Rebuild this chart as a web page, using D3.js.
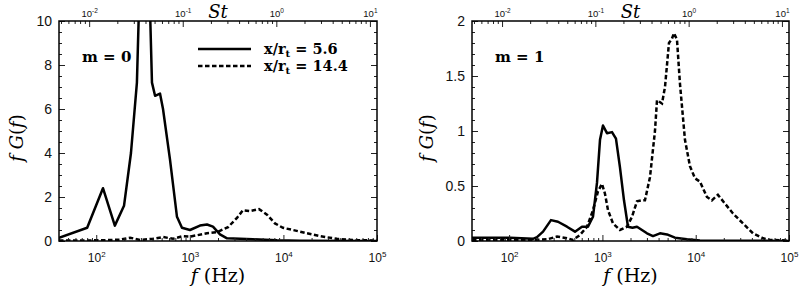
<!DOCTYPE html>
<html>
<head>
<meta charset="utf-8">
<script src="https://cdn.jsdelivr.net/npm/d3@7"></script>
<style>
  body { margin: 0; background: #fff; }
  svg { display: block; }
</style>
</head>
<body>
<div id="canvas"></div>
<script>
"use strict"

/* data: frequency (Hz) and f G(f) */
let fSolidM0 = [40, 80, 118, 158, 198, 235, 272, 301, 357, 394, 425, 480, 517, 614, 729, 824, 1004, 1283, 1525, 1767, 2100, 2497, 4730, 8530, 15000, 100000];
let gSolidM0 = [0.15, 0.6, 2.4, 0.7, 1.6, 4.0, 7.2, 14, 14, 7.2, 6.6, 6.7, 6.0, 3.7, 1.1, 0.6, 0.5, 0.7, 0.75, 0.65, 0.3, 0.12, 0.08, 0.03, 0.01, 0.0];

let fDashM0 = [40, 110, 180, 230, 293, 403, 517, 661, 845, 1004, 1525, 1950, 2560, 3190, 3700, 4390, 5480, 6670, 8120, 9890, 12650, 17860, 24570, 37300, 58100, 100000];
let gDashM0 = [0.02, 0.03, 0.06, 0.15, 0.05, 0.1, 0.18, 0.1, 0.22, 0.2, 0.35, 0.4, 0.63, 1.05, 1.4, 1.36, 1.45, 1.2, 0.8, 0.6, 0.5, 0.35, 0.22, 0.1, 0.04, 0.02];

let fSolidM1 = [40, 102, 180, 199, 231, 281, 334, 417, 508, 604, 700, 792, 875, 942, 1014, 1119, 1267, 1397, 1542, 1703, 1880, 2100, 2346, 3003, 3483, 4140, 4920, 5990, 8060, 11100, 100000];
let gSolidM1 = [0.03, 0.03, 0.02, 0.035, 0.085, 0.19, 0.175, 0.13, 0.085, 0.13, 0.13, 0.22, 0.53, 0.92, 1.05, 0.98, 0.99, 0.93, 0.67, 0.37, 0.13, 0.12, 0.13, 0.07, 0.045, 0.07, 0.06, 0.03, 0.015, 0.005, 0.0];

let fDashM1 = [40, 180, 255, 326, 417, 484, 575, 684, 792, 896, 989, 1065, 1148, 1298, 1542, 1832, 2075, 2346, 2654, 2858, 3234, 3659, 3846, 4351, 4686, 5168, 5569, 5850, 6300, 6780, 7670, 8680, 9820, 11100, 13200, 14900, 17300, 20600, 25100, 32100, 41100, 52600, 62500, 100000];
let gDashM1 = [0.01, 0.01, 0.015, 0.04, 0.025, 0.01, 0.055, 0.13, 0.28, 0.45, 0.52, 0.43, 0.28, 0.16, 0.1, 0.13, 0.22, 0.36, 0.37, 0.37, 0.58, 1.0, 1.28, 1.25, 1.4, 1.8, 1.84, 1.89, 1.83, 1.43, 0.92, 0.68, 0.57, 0.54, 0.4, 0.37, 0.42, 0.34, 0.25, 0.16, 0.07, 0.025, 0.01, 0.005];

/* tick values */
let fTicks = [100, 1000, 10000, 100000];
let stTicks = [0.01, 0.1, 1, 10];
let yTicksM0 = [0, 2, 4, 6, 8, 10];
let yTicksM1 = [0, 0.5, 1, 1.5, 2];

let legendLabels = ["5.6", "14.4"];

let fDomain = [40, 100000];
let fPerSt = 8400;   /* f / St */

let drawing = d3.select("#canvas")
    .append("svg")
    .attr("width", 800)
    .attr("height", 294);

let sans = "'Liberation Sans', Arial, sans-serif";
let serif = "'DejaVu Serif', serif";

/* minor ticks for a log axis: 2..9 in every decade */
function logMinors(lo, hi) {
  let out = [];
  for (let e = Math.floor(Math.log10(lo)); e <= Math.ceil(Math.log10(hi)); e++) {
    for (let k = 2; k <= 9; k++) {
      let v = k * Math.pow(10, e);
      if (v >= lo && v <= hi) out.push(v);
    }
  }
  return out;
}

function powerLabel(sel, size, supSize, dy) {
  sel.each(function(d) {
    let t = d3.select(this);
    t.text(null);
    t.append("tspan").text("10");
    t.append("tspan")
      .attr("dy", dy)
      .attr("font-size", supSize)
      .text(Math.round(Math.log10(d)));
  });
}

function drawPanel(p) {
  let g = drawing.append("g");

  let x = d3.scaleLog().domain(fDomain).range([p.left, p.right]);
  let xSt = d3.scaleLog().domain([fDomain[0] / fPerSt, fDomain[1] / fPerSt]).range([p.left, p.right]);
  let y = d3.scaleLinear().domain([0, p.yMax]).range([p.bottom, p.top]);

  let clipId = "clip" + p.id;
  g.append("clipPath").attr("id", clipId)
    .append("rect")
    .attr("x", p.left).attr("y", p.top)
    .attr("width", p.right - p.left).attr("height", p.bottom - p.top);

  /* curves */
  let line = d3.line().x(d => x(d[0])).y(d => y(d[1]));
  g.append("path")
    .datum(d3.zip(p.fSolid, p.gSolid))
    .attr("d", line)
    .attr("clip-path", "url(#" + clipId + ")")
    .attr("fill", "none")
    .attr("stroke", "black")
    .attr("stroke-width", 2.5)
    .attr("stroke-linejoin", "round");
  g.append("path")
    .datum(d3.zip(p.fDash, p.gDash))
    .attr("d", line)
    .attr("clip-path", "url(#" + clipId + ")")
    .attr("fill", "none")
    .attr("stroke", "black")
    .attr("stroke-width", 2.5)
    .attr("stroke-dasharray", "4.5,2.5");

  /* bottom axis */
  g.append("g")
    .attr("transform", "translate(0," + p.bottom + ")")
    .call(d3.axisBottom(x).tickValues(logMinors(fDomain[0], fDomain[1])).tickSize(-3).tickFormat(""));
  let bottom = g.append("g")
    .attr("transform", "translate(0," + p.bottom + ")")
    .call(d3.axisBottom(x).tickValues(fTicks).tickSize(-6).tickPadding(12));
  bottom.selectAll(".tick text")
    .attr("font-family", sans).attr("font-size", 12).attr("fill", "#111")
    .call(powerLabel, 12, 8, -5);

  /* top axis (Strouhal) */
  g.append("g")
    .attr("transform", "translate(0," + p.top + ")")
    .call(d3.axisTop(xSt).tickValues(logMinors(xSt.domain()[0], xSt.domain()[1])).tickSize(-3).tickFormat(""));
  let top = g.append("g")
    .attr("transform", "translate(0," + p.top + ")")
    .call(d3.axisTop(xSt).tickValues(stTicks).tickSize(-6).tickPadding(4));
  top.selectAll(".tick text")
    .attr("font-family", sans).attr("font-size", 9.5).attr("fill", "#111")
    .call(powerLabel, 9.5, 6.5, -4);

  /* left and right axes */
  let yMinor = d3.range(0, p.yMax + 1e-9, p.yMinorStep);
  g.append("g")
    .attr("transform", "translate(" + p.left + ",0)")
    .call(d3.axisLeft(y).tickValues(yMinor).tickSize(-3).tickFormat(""));
  let left = g.append("g")
    .attr("transform", "translate(" + p.left + ",0)")
    .call(d3.axisLeft(y).tickValues(p.yTicks).tickSize(-6).tickPadding(7).tickFormat(d3.format("~g")));
  left.selectAll(".tick text")
    .attr("font-family", sans).attr("font-size", 14).attr("fill", "#111");
  g.append("g")
    .attr("transform", "translate(" + p.right + ",0)")
    .call(d3.axisRight(y).tickValues(yMinor).tickSize(-3).tickFormat(""));
  g.append("g")
    .attr("transform", "translate(" + p.right + ",0)")
    .call(d3.axisRight(y).tickValues(p.yTicks).tickSize(-6).tickFormat(""));

  g.selectAll(".domain").remove();
  g.selectAll(".tick line").attr("stroke", "#222").attr("stroke-width", 1);

  /* frame */
  g.append("rect")
    .attr("x", p.left).attr("y", p.top)
    .attr("width", p.right - p.left).attr("height", p.bottom - p.top)
    .attr("fill", "none")
    .attr("stroke", "black")
    .attr("stroke-width", 1.5);

  /* titles */
  let cx = (p.left + p.right) / 2;
  let xt = g.append("text")
    .attr("x", cx).attr("y", 282)
    .attr("text-anchor", "middle")
    .attr("font-family", serif).attr("font-size", 19);
  xt.append("tspan").attr("font-style", "italic").text("f");
  xt.append("tspan").text(" (Hz)");

  g.append("text")
    .attr("x", cx).attr("y", 18)
    .attr("text-anchor", "middle")
    .attr("font-family", serif).attr("font-size", 18)
    .attr("font-style", "italic")
    .text("St");

  let yt = g.append("text")
    .attr("transform", "translate(" + p.yTitleX + "," + ((p.top + p.bottom) / 2 + 7) + ") rotate(-90)")
    .attr("text-anchor", "middle")
    .attr("font-family", serif).attr("font-size", 18);
  yt.append("tspan").attr("font-style", "italic").text("f");
  yt.append("tspan").text(" ");
  yt.append("tspan").attr("font-style", "italic").text("G");
  yt.append("tspan").text("(");
  yt.append("tspan").attr("font-style", "italic").text("f");
  yt.append("tspan").text(")");

  /* mode label */
  g.append("text")
    .attr("x", p.left + 23).attr("y", 62)
    .attr("font-family", serif).attr("font-size", 15).attr("font-weight", "bold")
    .text(p.mode);

  return { x: x, y: y };
}

drawPanel({
  id: 0, left: 59, right: 377, top: 21, bottom: 241,
  yMax: 10, yTicks: yTicksM0, yMinorStep: 0.5, yTitleX: 23,
  mode: "m = 0",
  fSolid: fSolidM0, gSolid: gSolidM0, fDash: fDashM0, gDash: gDashM0
});

drawPanel({
  id: 1, left: 472, right: 789, top: 21, bottom: 241,
  yMax: 2, yTicks: yTicksM1, yMinorStep: 0.1, yTitleX: 433,
  mode: "m = 1",
  fSolid: fSolidM1, gSolid: gSolidM1, fDash: fDashM1, gDash: gDashM1
});

/* legend (left panel) */
let legend = drawing.append("g");
legendLabels.forEach(function(lab, i) {
  let ly = 49 + i * 17;
  legend.append("line")
    .attr("x1", 198).attr("x2", 251)
    .attr("y1", ly).attr("y2", ly)
    .attr("stroke", "black")
    .attr("stroke-width", 2.5)
    .attr("stroke-dasharray", i === 0 ? null : "4.5,2.5");
  let t = legend.append("text")
    .attr("x", 264).attr("y", ly + 5)
    .attr("font-family", serif).attr("font-size", 14.5).attr("font-weight", "bold");
  t.append("tspan").text("x/r");
  t.append("tspan").attr("font-size", 10).attr("dy", 3).text("t");
  t.append("tspan").attr("dy", -3).text(" = " + lab);
});
</script>
</body>
</html>
